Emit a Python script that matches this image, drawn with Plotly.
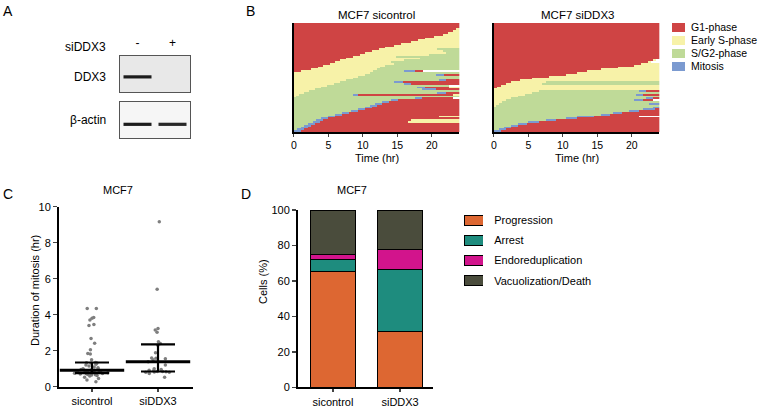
import numpy as np
import plotly.graph_objects as go

W, H = 760, 406
FONT = "Liberation Sans, Arial, Helvetica, sans-serif"

# ---------------- data ----------------
# A: western blot
blot_lanes = ["-", "+"]
ddx3_band = [1.0, 0.0]
actin_band = [1.0, 0.95]

# B: single-cell cell-cycle tracks (start phase, transition times (hr), track end)
phase_names = ["G1-phase", "Early S-phase", "S/G2-phase", "Mitosis"]
phase_colors = ["#cf4444", "#f7f2a8", "#bfda98", "#7b9ad0"]

ctrl_tracks = [
    (0, [], None), (0, [], None), (0, [], None),
    (0, [23.6], None), (0, [23.0], None), (0, [22.3], None), (0, [21.4], None),
    (0, [20.2], None), (0, [19.0], None), (0, [18.0], None), (0, [17.0], None),
    (0, [15.6], None), (0, [14.5], None), (0, [13.3], None),
    (0, [12.2, 20.8], None), (0, [11.2, 21.5], None), (0, [10.3, 22.0], None),
    (0, [9.4, 19.5], None), (0, [8.5, 14.8], None), (0, [7.5, 18.2], None),
    (0, [6.8, 16.0], None), (0, [6.0, 13.9], None), (0, [5.3, 14.6], None),
    (0, [4.3, 13.2], None), (0, [3.6, 12.6], None), (0, [2.4, 12.0], None),
    (0, [1.0, 11.6, 16.1, 17.4], 18.8),
    (1, [11.0], None), (1, [10.2, 20.5, 21.8], None), (1, [9.3], None),
    (1, [8.5], None), (1, [7.6, 21.0, 22.0], None), (1, [6.8, 14.6, 15.8], None),
    (1, [5.8, 16.0, 17.0], None), (1, [4.8], 22.4), (1, [4.0, 17.7, 19.0, 22.5], None),
    (1, [3.1, 18.5, 20.5], None), (1, [2.3], None), (1, [1.5, 20.8, 22.0], None),
    (1, [0.8, 8.5, 9.3, 23.0], None), (1, [0.2], None),
    (2, [17.5, 18.5], 23.0), (2, [14.0, 15.0], None), (2, [12.8, 13.8], None),
    (2, [11.7, 12.7], None), (2, [11.0, 12.0], None), (2, [10.3, 11.3], None),
    (2, [9.2, 10.2], None), (2, [8.2, 9.2], None), (2, [7.0, 8.0], None),
    (2, [6.0, 7.0], None), (2, [5.0, 6.0, 21.0], None), (2, [4.0, 5.0], None),
    (2, [3.3, 4.3, 17.0], None), (2, [2.7, 3.7, 16.6], None), (2, [2.0, 3.0], None),
    (2, [1.4, 2.4], None), (2, [0.9, 1.9], None), (2, [0.5, 1.5], None),
    (3, [0.9], None),
]

sidd_tracks = [(0, [], None)] * 20 + [
    (0, [23.0], 23.4), (0, [22.2], 22.8), (0, [21.2], None), (0, [20.2], None),
    (0, [18.0], None), (0, [15.5], None), (0, [13.5], None), (0, [12.0], None),
    (0, [10.5], None), (0, [8.0], None), (0, [5.5], None), (0, [3.8], None),
    (0, [2.5, 7.5], None), (0, [1.8, 7.0], None), (0, [1.0], None), (0, [0.4], None),
    (1, [], None), (1, [6.5, 21.0, 22.0], None), (1, [5.5], None),
    (1, [4.5, 20.5, 21.6], None), (1, [3.5], None), (1, [2.6, 22.0, 23.0], None),
    (1, [1.8, 20.3, 21.4], 23.0), (1, [1.2], None), (1, [0.7, 22.5], None),
    (1, [0.3], None),
    (2, [23.0], None), (2, [21.6, 23.2], None), (2, [19.5, 21.0], None),
    (2, [17.3, 18.6], None), (2, [15.5, 16.8], None), (2, [12.0, 14.6], 21.0),
    (2, [10.5, 12.0], None), (2, [7.6, 9.0], None), (2, [5.0, 6.4], None),
    (2, [3.6, 4.8], None), (2, [2.6, 3.6], None), (2, [1.6, 2.6], None),
    (2, [0.8, 1.8], None), (3, [1.0], None),
]

# C: duration of mitosis (hr)
groups = ["sicontrol", "siDDX3"]
mitosis_ctrl = [4.35, 4.35, 3.85, 3.8, 3.7, 3.45, 3.4, 2.68, 2.42, 2.05, 1.85, 1.82, 1.5,
                1.35, 1.33, 1.32, 1.3, 1.25, 1.2, 1.15, 1.1, 1.05, 1.0, 0.98, 0.95, 0.93,
                0.92, 0.9, 0.88, 0.87, 0.85, 0.85, 0.83, 0.82, 0.8, 0.8, 0.8, 0.78, 0.77,
                0.75, 0.75, 0.73, 0.72, 0.7, 0.7, 0.68, 0.66, 0.65, 0.62, 0.6, 0.52, 0.45,
                0.37, 0.28]
mitosis_sidd = [9.17, 5.41, 3.24, 3.15, 3.02, 2.5, 2.4, 2.3, 1.88, 1.6, 1.58, 1.55, 1.5,
                1.38, 1.2, 1.0, 0.95, 0.92, 0.9, 0.85, 0.84, 0.83, 0.82, 0.8, 0.8, 0.74,
                0.52]

# D: cell fate (%)
fates = ["Progression", "Arrest", "Endoreduplication", "Vacuolization/Death"]
fate_colors = ["#dd6732", "#1e8c7e", "#d2148c", "#4a4c3c"]
fate_ctrl = [65.5, 6.5, 3.0, 25.0]
fate_sidd = [31.5, 35.0, 11.0, 22.5]

# ---------------- helpers ----------------
def dx(a, b):
    return [a / W, b / W]

def dy(top, bottom):
    return [1 - bottom / H, 1 - top / H]

t_bins = np.arange(0.125, 24, 0.25)

def track_matrix(tracks):
    z = []
    for start, times, end in tracks:
        row = []
        for t in t_bins:
            k = sum(1 for tt in times if tt <= t)
            v = (start + k) % 4
            if end is not None and t > end:
                v = None
            row.append(v)
        z.append(row)
    return z

cs = []
for i, c in enumerate(phase_colors):
    cs += [[i / 4, c], [(i + 1) / 4, c]]

fig = go.Figure()

# ---- A: blot ----
for ax, bands, level in (("", ddx3_band, 0.42), ("2", actin_band, 0.38)):
    for i, v in enumerate(bands):
        if v > 0:
            fig.add_trace(go.Scatter(x=[i + 0.1, i + 0.9], y=[level, level], mode="lines",
                                     line=dict(color="#1c1c1c", width=3.2), opacity=v,
                                     xaxis="x" + ax, yaxis="y" + ax, hoverinfo="skip"))

# ---- B: heatmaps ----
for ax, tracks in (("3", ctrl_tracks), ("4", sidd_tracks)):
    fig.add_trace(go.Heatmap(x=t_bins, y=list(range(len(tracks))), z=track_matrix(tracks),
                             colorscale=cs, zmin=-0.5, zmax=3.5, showscale=False,
                             xaxis="x" + ax, yaxis="y" + ax, hoverinfo="skip"))

fig.add_trace(go.Bar(y=phase_names, x=[1] * 4, orientation="h", width=0.72,
                     marker=dict(color=phase_colors, line=dict(width=0)),
                     xaxis="x5", yaxis="y5", hoverinfo="skip"))

# ---- C: scatter with median & IQR ----
for g, vals in zip(groups, (mitosis_ctrl, mitosis_sidd)):
    fig.add_trace(go.Box(x=[g] * len(vals), y=vals, boxpoints="all", jitter=0.85, pointpos=0,
                         width=0.7, fillcolor="rgba(0,0,0,0)",
                         line=dict(color="rgba(0,0,0,0)", width=0), whiskerwidth=0,
                         marker=dict(color="#7f7f7f", size=3.5),
                         xaxis="x6", yaxis="y6", hoverinfo="skip"))
meds = [float(np.median(v)) for v in (mitosis_ctrl, mitosis_sidd)]
q1 = [float(np.percentile(v, 25)) for v in (mitosis_ctrl, mitosis_sidd)]
q3 = [float(np.percentile(v, 75)) for v in (mitosis_ctrl, mitosis_sidd)]
fig.add_trace(go.Scatter(x=groups, y=meds, mode="markers",
                         marker=dict(symbol="line-ew", size=46, color="black",
                                     line=dict(width=3, color="black")),
                         error_y=dict(type="data", symmetric=False,
                                      array=[a - m for a, m in zip(q3, meds)],
                                      arrayminus=[m - a for a, m in zip(q1, meds)],
                                      color="black", thickness=2.2, width=17),
                         xaxis="x6", yaxis="y6", hoverinfo="skip"))

# ---- D: stacked bars ----
for i, f in enumerate(fates):
    fig.add_trace(go.Bar(x=groups, y=[fate_ctrl[i], fate_sidd[i]], width=0.66,
                         marker=dict(color=fate_colors[i], line=dict(color="black", width=1)),
                         xaxis="x7", yaxis="y7", hoverinfo="skip", name=f))
fig.add_trace(go.Bar(y=fates, x=[1] * 4, orientation="h", width=0.5,
                     marker=dict(color=fate_colors, line=dict(color="black", width=1)),
                     xaxis="x8", yaxis="y8", hoverinfo="skip"))

# ---------------- layout ----------------
tickfont = dict(family=FONT, size=11, color="black")
hidden = dict(showgrid=False, zeroline=False, showticklabels=False, ticks="")

lay = dict(
    width=W, height=H, margin=dict(l=0, r=0, t=0, b=0, autoexpand=False),
    paper_bgcolor="white", plot_bgcolor="rgba(0,0,0,0)",
    showlegend=False, barmode="stack", font=dict(family=FONT, size=11, color="black"),
)

# blot boxes
lay["xaxis"] = dict(domain=dx(120, 190), range=[0, 2], showgrid=False, zeroline=False,
                    side="top", tickvals=[0.5, 1.5], ticktext=blot_lanes, ticks="outside",
                    ticklen=3, tickcolor="rgba(0,0,0,0)", tickfont=dict(family=FONT, size=12),
                    showline=True, mirror=True, linecolor="#555", linewidth=1, anchor="y")
lay["yaxis"] = dict(domain=dy(56, 92), range=[0, 1], **hidden, showline=True, mirror=True,
                    linecolor="#555", linewidth=1, anchor="x")
lay["xaxis2"] = dict(domain=dx(120, 190), range=[0, 2], **hidden, showline=True, mirror=True,
                     linecolor="#555", linewidth=1, anchor="y2")
lay["yaxis2"] = dict(domain=dy(102, 138), range=[0, 1], **hidden, showline=True, mirror=True,
                     linecolor="#555", linewidth=1, anchor="x2")

# heatmaps
for ax, d in (("3", dx(293.8, 459.4)), ("4", dx(493.8, 659.4))):
    lay["xaxis" + ax] = dict(domain=d, range=[0, 24], tickvals=[0, 5, 10, 15, 20],
                             ticks="outside", ticklen=3, tickwidth=1.2, showgrid=False,
                             zeroline=False, showline=True, linecolor="black", linewidth=1.5,
                             tickfont=dict(family=FONT, size=10.5, color="black"),
                             anchor="y" + ax)
    lay["yaxis" + ax] = dict(domain=dy(23, 132), range=[59.5, -0.5], **hidden, showline=True,
                             linecolor="black", linewidth=1.5, anchor="x" + ax)

# B legend
lay["xaxis5"] = dict(domain=dx(672, 685), range=[0, 1], **hidden, anchor="y5")
lay["yaxis5"] = dict(domain=dy(21, 73), range=[3.5, -0.5], type="category",
                     categoryorder="array", categoryarray=phase_names, side="right",
                     tickmode="array", tickvals=phase_names, ticktext=phase_names,
                     ticks="outside", ticklen=3, tickcolor="rgba(0,0,0,0)", showgrid=False,
                     zeroline=False, tickfont=dict(family=FONT, size=10.5, color="black"),
                     anchor="x5")

# C
lay["xaxis6"] = dict(domain=dx(59, 193), range=[-0.5, 1.53], type="category",
                     ticks="outside", ticklen=3, tickwidth=1.5, showgrid=False, zeroline=False,
                     showline=True, linecolor="black", linewidth=2, tickfont=tickfont,
                     anchor="y6")
lay["yaxis6"] = dict(domain=dy(206.7, 386.7), range=[0, 10], tickvals=[0, 2, 4, 6, 8, 10],
                     ticks="outside", ticklen=4, tickwidth=1.5, showgrid=False, zeroline=False,
                     showline=True, linecolor="black", linewidth=2, tickfont=tickfont,
                     anchor="x6")

# D
lay["xaxis7"] = dict(domain=dx(298, 433), range=[-0.52, 1.49], type="category",
                     ticks="outside", ticklen=3, tickwidth=1.5, showgrid=False, zeroline=False,
                     showline=True, linecolor="black", linewidth=2, tickfont=tickfont,
                     anchor="y7")
lay["yaxis7"] = dict(domain=dy(210, 387.3), range=[0, 100], tickvals=[0, 20, 40, 60, 80, 100],
                     ticks="outside", ticklen=4, tickwidth=1.5, showgrid=False, zeroline=False,
                     showline=True, linecolor="black", linewidth=2, tickfont=tickfont,
                     anchor="x7")

# D legend
lay["xaxis8"] = dict(domain=dx(464, 483), range=[0, 1], **hidden, anchor="y8")
lay["yaxis8"] = dict(domain=dy(210, 291), range=[3.5, -0.5], type="category",
                     categoryorder="array", categoryarray=fates, side="right",
                     tickmode="array", tickvals=fates, ticktext=fates,
                     ticks="outside", ticklen=8, tickcolor="rgba(0,0,0,0)", showgrid=False,
                     zeroline=False, tickfont=tickfont, anchor="x8")

fig.update_layout(**lay)

# blot box fills
for ax, col in (("", "#e8e8e8"), ("2", "#f6f6f6")):
    fig.add_shape(type="rect", xref="x%s domain" % ax, yref="y%s domain" % ax,
                  x0=0, x1=1, y0=0, y1=1, fillcolor=col, line=dict(width=0), layer="below")

def ann(text, x, y, size=11, xanchor="center", yanchor="middle", angle=0):
    fig.add_annotation(text=text, x=x / W, y=1 - y / H, xref="paper", yref="paper",
                       showarrow=False, xanchor=xanchor, yanchor=yanchor, textangle=angle,
                       font=dict(family=FONT, size=size, color="black"))

ann("A", 1, 1, 14, "left", "top")
ann("B", 244, 1, 14, "left", "top")
ann("C", 1, 184, 14, "left", "top")
ann("D", 239, 184, 14, "left", "top")
ann("siDDX3", 108, 47, 12, "right")
ann("DDX3", 108, 77, 12, "right")
ann("β-actin", 108, 120, 12, "right")
ann("MCF7 sicontrol", 376.5, 15, 11.5)
ann("MCF7 siDDX3", 577, 15, 11.5)
ann("Time (hr)", 377, 158, 11)
ann("Time (hr)", 577, 158, 11)
ann("MCF7", 118, 190, 11)
ann("MCF7", 352, 190, 11)
ann("Duration of mitosis (hr)", 35, 291, 11, angle=-90)
ann("Cells (%)", 263, 282, 11, angle=-90)

fig.write_html("out.html", config={"displayModeBar": False, "staticPlot": True},
               post_script="document.body.style.margin='0';document.body.style.overflow='hidden';")
